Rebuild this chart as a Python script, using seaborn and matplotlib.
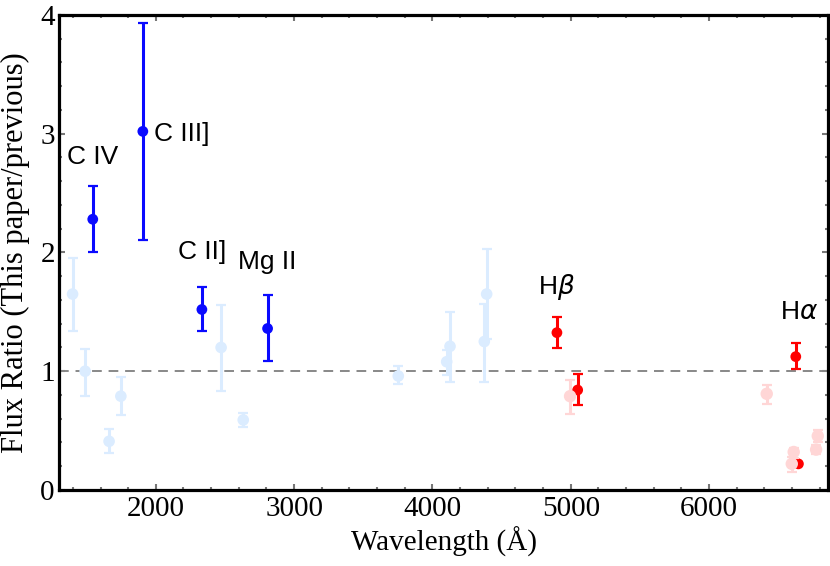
import matplotlib
matplotlib.use("Agg")
import matplotlib.pyplot as plt
import seaborn as sns
import pandas as pd
from matplotlib.ticker import MultipleLocator

# strong lines (this paper) -- blue = UV, red = optical
uv_names = ["C IV", "C III]", "C II]", "Mg II"]
uv_wave = [1544, 1906, 2333, 2808]
uv_ratio = [2.28, 3.02, 1.52, 1.36]
uv_lo = [2.00, 2.105, 1.34, 1.09]
uv_hi = [2.56, 3.93, 1.71, 1.64]

opt_wave = [4900, 5050, 6627, 6646]
opt_ratio = [1.325, 0.842, 1.123, 0.22]
opt_lo = [1.193, 0.716, 1.016, 0.22]
opt_hi = [1.454, 0.974, 1.235, 0.22]

# faint points (other lines)
fuv_wave = [1398, 1489, 1662, 1747, 2472, 2632, 3753, 4103, 4127, 4375, 4392]
fuv_ratio = [1.65, 1.00, 0.41, 0.79, 1.20, 0.59, 0.96, 1.08, 1.21, 1.25, 1.65]
fuv_lo = [1.34, 0.79, 0.31, 0.63, 0.83, 0.53, 0.89, 0.97, 0.91, 0.91, 1.27]
fuv_hi = [1.95, 1.19, 0.51, 0.95, 1.56, 0.65, 1.04, 1.18, 1.50, 1.57, 2.03]

fopt_wave = [4995, 6417, 6598, 6612, 6774, 6786]
fopt_ratio = [0.79, 0.81, 0.22, 0.32, 0.34, 0.455]
fopt_lo = [0.64, 0.72, 0.15, 0.27, 0.30, 0.40]
fopt_hi = [0.93, 0.88, 0.28, 0.35, 0.38, 0.505]

BLUE = "#0a0aff"
RED = "#ff0000"
PBLUE = "#dbecff"
PRED = "#ffd6d6"

sns.set_style("ticks")
plt.rcParams["font.family"] = ["Liberation Serif", "DejaVu Serif"]
plt.rcParams["mathtext.fontset"] = "dejavusans"
plt.rcParams["text.color"] = "black"
plt.rcParams["axes.labelcolor"] = "black"
plt.rcParams["xtick.labelcolor"] = "black"
plt.rcParams["ytick.labelcolor"] = "black"

fig = plt.figure(figsize=(8.3, 5.66), dpi=100)
ax = fig.add_axes([0.0711, 0.1343, 0.9265, 0.8392])


def draw(wave, ratio, lo, hi, color, z, s=60):
    df = pd.DataFrame({"wave": wave, "ratio": ratio, "lo": lo, "hi": hi})
    yerr = [df["ratio"] - df["lo"], df["hi"] - df["ratio"]]
    ax.errorbar(df["wave"], df["ratio"], yerr=yerr, fmt="none", ecolor=color,
                elinewidth=2.2, capsize=3.5, capthick=1.6, zorder=z)
    sns.scatterplot(data=df, x="wave", y="ratio", color=color, s=s,
                    edgecolor="none", ax=ax, zorder=z + 0.5, legend=False)


ax.axhline(1, color="#888888", lw=1.4, ls=(0, (5, 3.5)), zorder=1)

draw(fuv_wave, fuv_ratio, fuv_lo, fuv_hi, PBLUE, 2, s=70)
draw(uv_wave, uv_ratio, uv_lo, uv_hi, BLUE, 4)
draw(opt_wave, opt_ratio, opt_lo, opt_hi, RED, 4)
draw(fopt_wave, fopt_ratio, fopt_lo, fopt_hi, PRED, 6, s=80)

ann = dict(family=["Liberation Sans", "DejaVu Sans"], fontsize=19,
           va="center", color="black")
ax.text(uv_wave[0], 2.80, uv_names[0], ha="center", **ann)
ax.text(1990, 3.0, uv_names[1], ha="left", **ann)
ax.text(uv_wave[2], 2.0, uv_names[2], ha="center", **ann)
ax.text(uv_wave[3], 1.92, uv_names[3], ha="center", **ann)
ax.text(opt_wave[0], 1.71, r"H$\beta$", ha="center", **ann)
ax.text(opt_wave[2] + 20, 1.50, r"H$\alpha$", ha="center", **ann)

ax.set_xlim(1300, 6860)
ax.set_ylim(0, 4)
ax.xaxis.set_major_locator(MultipleLocator(1000))
ax.xaxis.set_minor_locator(MultipleLocator(200))
ax.yaxis.set_major_locator(MultipleLocator(1))
ax.yaxis.set_minor_locator(MultipleLocator(0.2))
ax.tick_params(which="both", direction="in", top=True, right=True,
               color="#777777", width=1.5)
ax.tick_params(which="major", length=4, labelsize=21, pad=4)
ax.tick_params(which="minor", length=2.5)
ax.tick_params(axis="y", pad=3)
for sp in ax.spines.values():
    sp.set_linewidth(2.3)
    sp.set_color("black")

ax.set_xlabel("Wavelength (Å)", fontsize=21, labelpad=4)
ax.set_ylabel("Flux Ratio (This paper/previous)", fontsize=22)
ax.yaxis.set_label_coords(-0.038, 0.5)

fig.savefig("out.png", dpi=100)
